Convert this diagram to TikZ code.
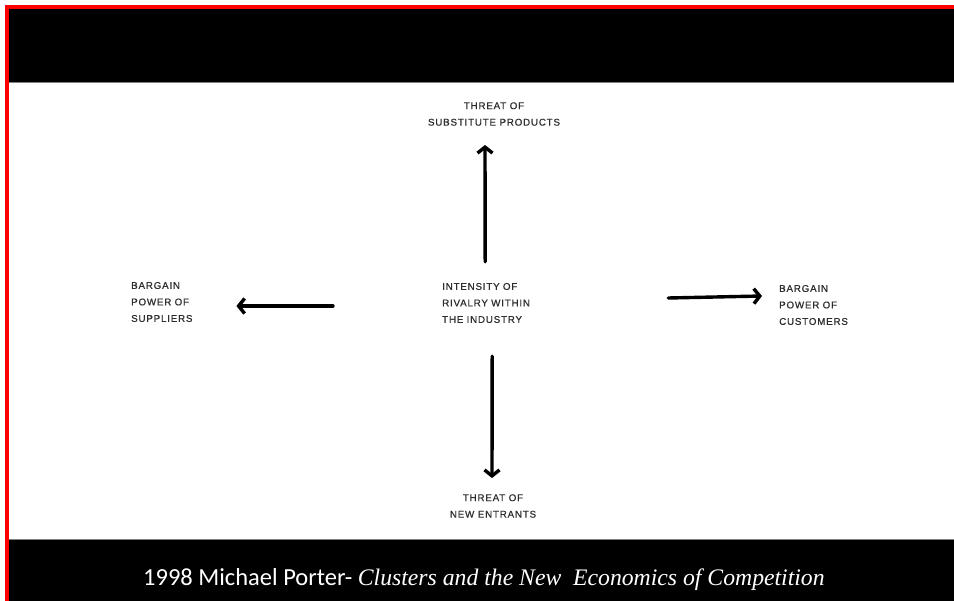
\documentclass[tikz,border=0pt]{standalone}
\usepackage{fontspec}
\setmainfont{Liberation Sans}
\newfontfamily\labelfont[LetterSpace=8, FakeBold=0.6]{Liberation Sans}
\newfontfamily\creditfont{Carlito}
\newfontfamily\titlefont{Liberation Serif}
\usetikzlibrary{positioning,arrows.meta}
\definecolor{frame red}{RGB}{255,0,0}
\definecolor{label gray}{RGB}{45,45,45}

\begin{document}
\begin{tikzpicture}[x=1pt, y=-1pt,
  lbl/.style={font=\labelfont\fontsize{9.8}{16.5}\selectfont, text=label gray, inner sep=0pt},
  arr/.style={-{Straight Barb[length=6pt,width=15pt,line width=0pt 1]}, line width=3.4pt, line cap=round},
  band/.style={fill=black}]
  \useasboundingbox (0,0) rectangle (954,601);
  % frame and bands
  \fill[white] (0,0) rectangle (954,601);
  \fill[band] (9,9) rectangle (954,82);
  \fill[band] (9,540) rectangle (954,601);
  \draw[gray, line width=1pt] (9,82.5) -- (954,82.5);
  \draw[gray, line width=1pt] (9,539.5) -- (954,539.5);
  \fill[frame red] (5,5) rectangle (954,9);
  \fill[frame red] (5,5) rectangle (9,601);
  % the five forces
  \node[lbl, anchor=west, align=left, text width=100pt] (rivalry) at (442,303) {INTENSITY OF\\RIVALRY WITHIN\\THE INDUSTRY};
  \node[lbl, align=center] (subst) at (494,114) {THREAT OF\\SUBSTITUTE PRODUCTS};
  \node[lbl, anchor=west, align=left, text width=70pt] (suppliers) at (131,302) {BARGAIN\\POWER OF\\SUPPLIERS};
  \node[lbl, anchor=west, align=left, text width=80pt] (customers) at (779,305) {BARGAIN\\POWER OF\\CUSTOMERS};
  \node[lbl, align=center] (entrants) at (493,506) {THREAT OF\\NEW ENTRANTS};
  \draw[arr] ([xshift=-7pt, yshift=21pt]rivalry.north) -- ([xshift=-9pt, yshift=-19pt]subst.south);
  \draw[arr] ([yshift=-33pt]rivalry.south) -- ([xshift=-1pt, yshift=16pt]entrants.north);
  \draw[arr] ([xshift=-109pt, yshift=-3pt]rivalry.west) -- ([xshift=35pt, yshift=-4pt]suppliers.east);
  \draw[arr] ([xshift=126pt, yshift=5pt]rivalry.east) -- ([xshift=-17pt, yshift=9pt]customers.west);
  % source line
  \node[anchor=base west, text=white, inner sep=0pt] (credit) at (143,585) {\creditfont\fontsize{24.5}{24}\selectfont 1998 Michael Porter- \titlefont\itshape\fontsize{23.7}{24}\selectfont Clusters and the New\ \ Economics of Competition};
\end{tikzpicture}
\end{document}
